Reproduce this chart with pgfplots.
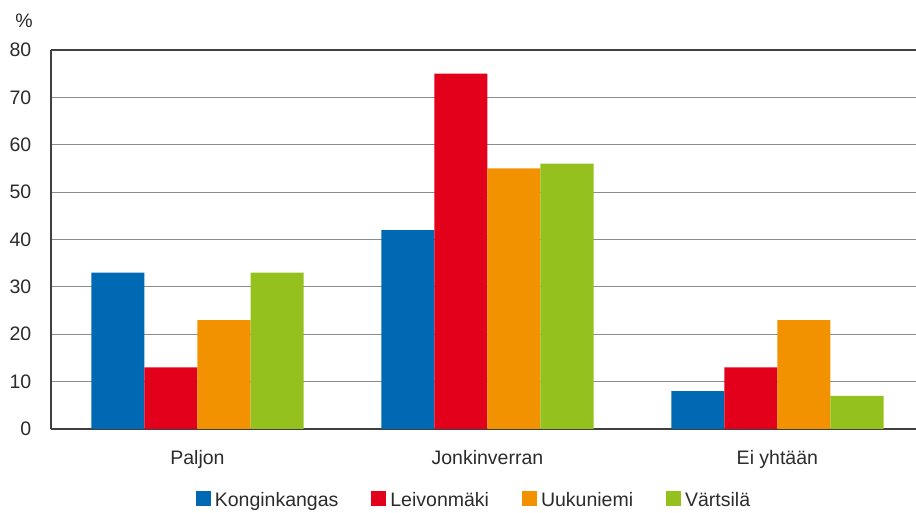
\documentclass[border=0pt]{standalone}
\usepackage{fontspec}
\setmainfont{Liberation Sans}
\usepackage{pgfplots}
\pgfplotsset{compat=1.18}

\definecolor{cblue}{HTML}{0069B4}
\definecolor{cred}{HTML}{E2001A}
\definecolor{corange}{HTML}{F39200}
\definecolor{cgreen}{HTML}{95C11F}
\definecolor{txt}{HTML}{2B2B2B}

\begin{document}
\fontsize{19.5bp}{23bp}\selectfont
\begin{tikzpicture}
\useasboundingbox (0,0) rectangle (916bp,513bp);
\begin{axis}[
    at={(51bp,84bp)}, anchor=south west,
    scale only axis,
    width=865bp, height=379bp,
    ybar=0pt,
    bar width=0.183,
    xmin=-0.505, xmax=2.478,
    ymin=0, ymax=80,
    xtick=data,
    xticklabels={Paljon, Jonkinverran, Ei yhtään},
    ytick={0,10,...,80},
    extra y ticks={80},
    extra y tick labels={},
    extra y tick style={grid style={txt!90, line width=1.3bp}},
    axis x line=bottom, axis y line=left,
    axis line style={-, txt!90, line width=1.3bp},
    ymajorgrids,
    grid style={black!45, line width=0.8bp},
    major tick length=0pt,
    /pgf/number format/assume math mode=true,
    tick label style={font=\fontsize{19.5bp}{23bp}\selectfont, text=txt},
    yticklabel style={xshift=-13bp},
    xticklabel style={yshift=-15bp},
    legend columns=4,
    legend style={draw=none, fill=none, at={(0.489,-0.19)}, anchor=center,
        font=\fontsize{19.5bp}{23bp}\selectfont, text=txt,
        /tikz/every even column/.append style={column sep=31bp},
        inner sep=0pt},
    legend image code/.code={\fill[#1] (0bp,-5bp) rectangle (15bp,10bp); \path (17bp,0bp);},
]
\addplot[fill=cblue, draw=none] coordinates {(0,33) (1,42) (2,8)};
\addplot[fill=cred, draw=none] coordinates {(0,13) (1,75) (2,13)};
\addplot[fill=corange, draw=none] coordinates {(0,23) (1,55) (2,23)};
\addplot[fill=cgreen, draw=none] coordinates {(0,33) (1,56) (2,7)};
\legend{Konginkangas, Leivonmäki, Uukuniemi, Värtsilä}
\end{axis}
\node[text=txt] at (24bp,492bp) {\%};
\end{tikzpicture}
\end{document}
